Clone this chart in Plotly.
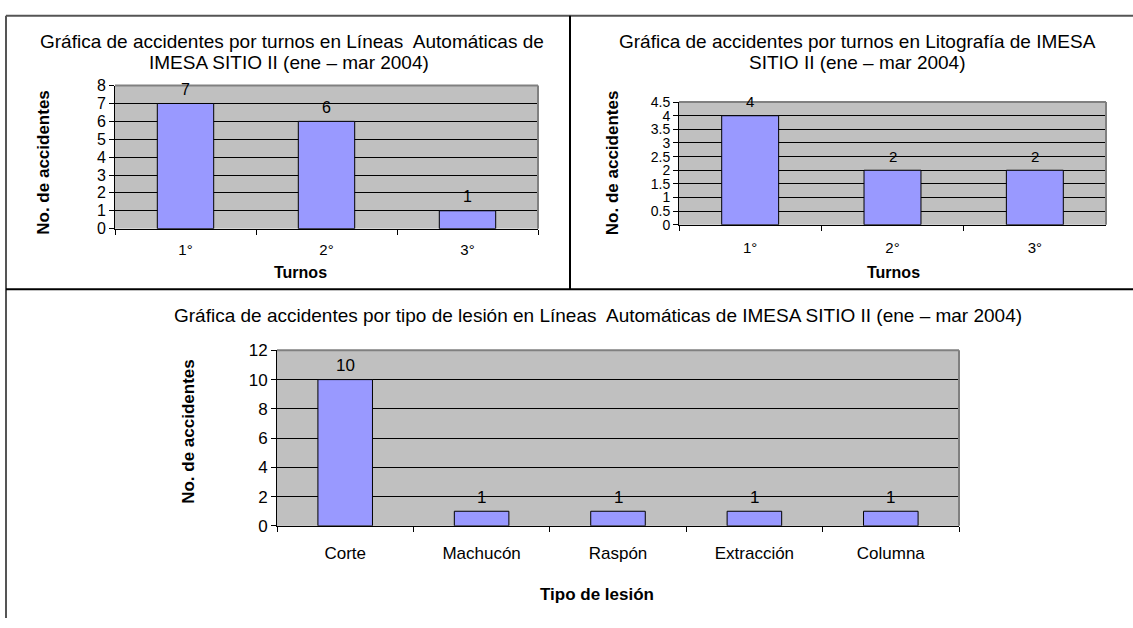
import plotly.graph_objects as go

W, H = 1133, 628

# ---- data ----
turnos = ["1°", "2°", "3°"]
lineas_turnos = [7, 6, 1]
lito_turnos = [4, 2, 2]
lesiones = ["Corte", "Machucón", "Raspón", "Extracción", "Columna"]
lineas_lesiones = [10, 1, 1, 1, 1]

title_tl = ["Gráfica de accidentes por turnos en Líneas  Automáticas de",
            "IMESA SITIO II (ene – mar 2004)"]
title_tr = ["Gráfica de accidentes por turnos en Litografía de IMESA",
            "SITIO II (ene – mar 2004)"]
title_b = "Gráfica de accidentes por tipo de lesión en Líneas  Automáticas de IMESA SITIO II (ene – mar 2004)"
ytitle = "No. de accidentes"
xtitle_top = "Turnos"
xtitle_b = "Tipo de lesión"

FONT = "Arial, 'Liberation Sans', sans-serif"


def px(x):
    return x / W


def py(y):
    return 1 - y / H


fig = go.Figure()

bar_style = dict(marker=dict(color="#9999FF", line=dict(color="black", width=1)),
                 width=0.4, showlegend=False, hoverinfo="x+y")

series = [("", turnos, lineas_turnos, 16), ("2", turnos, lito_turnos, 15),
          ("3", lesiones, lineas_lesiones, 17)]
for sx, cats, vals, fs in series:
    fig.add_trace(go.Bar(x=cats, y=vals, xaxis="x" + sx, yaxis="y" + sx, **bar_style))

# plot areas in pixels: (left, right, top, bottom)
areas = {
    "1": (115, 538, 79, 226.5),
    "2": (679, 1106, 96, 222.5),
    "3": (277, 959, 352, 533),
}
ranges = {"1": ([0, 8], 1), "2": ([0, 4.5], 0.5), "3": ([0, 12], 2)}
tickfs = {"1": 16, "2": 14, "3": 17}
xtickfs = {"1": 15, "2": 15, "3": 17}
standoff = {"1": 7, "2": 9, "3": 12}

layout = {}
for k, (l, r, t, b) in areas.items():
    sx = "" if k == "1" else k
    yr, dt = ranges[k]
    layout["xaxis" + sx] = dict(
        domain=[px(l), px(r)], anchor="y" + sx, type="category",
        showgrid=False, ticks="outside", tickson="boundaries", ticklen=5,
        tickcolor="black", showline=True, linecolor="black", linewidth=1,
        tickfont=dict(size=xtickfs[k], color="black", family=FONT),
        ticklabelstandoff=standoff[k], fixedrange=True)
    layout["yaxis" + sx] = dict(
        domain=[py(b), py(t)], anchor="x" + sx, range=yr, dtick=dt,
        showgrid=True, gridcolor="black", gridwidth=1, zeroline=False,
        ticks="outside", ticklen=5, tickcolor="black", showline=True,
        linecolor="black", linewidth=1,
        tickfont=dict(size=tickfs[k], color="black", family=FONT), fixedrange=True)

fig.update_layout(**layout)

shapes = []
# gray top/right edges of each plot area
for k, (l, r, t, b) in areas.items():
    shapes.append(dict(type="line", xref="paper", yref="paper", x0=px(l), x1=px(r),
                       y0=py(t), y1=py(t), line=dict(color="#808080", width=2), layer="above"))
    shapes.append(dict(type="line", xref="paper", yref="paper", x0=px(r), x1=px(r),
                       y0=py(t), y1=py(b), line=dict(color="#808080", width=2), layer="above"))
# frame lines
shapes += [
    dict(type="line", xref="paper", yref="paper", x0=px(6), x1=1, y0=py(7), y1=py(7),
         line=dict(color="#555555", width=2)),
    dict(type="line", xref="paper", yref="paper", x0=px(6), x1=px(6), y0=py(7), y1=0,
         line=dict(color="#555555", width=2)),
    dict(type="line", xref="paper", yref="paper", x0=px(570), x1=px(570), y0=py(7), y1=py(289),
         line=dict(color="black", width=2)),
    dict(type="line", xref="paper", yref="paper", x0=px(6), x1=1, y0=py(289), y1=py(289),
         line=dict(color="black", width=2)),
]

ann = []


def add_text(text, x, y, size, bold=False, angle=0):
    ann.append(dict(text=f"<b>{text}</b>" if bold else text, x=px(x), y=py(y),
                    xref="paper", yref="paper", showarrow=False, textangle=angle,
                    xanchor="center", yanchor="middle",
                    font=dict(size=size, color="black", family=FONT)))


# bar value labels, placed through the data axes
for sx, cats, vals, fs in series:
    for c, v in zip(cats, vals):
        ann.append(dict(text=str(v), x=c, y=v, xref="x" + sx, yref="y" + sx,
                        showarrow=False, yanchor="middle", yshift=14,
                        font=dict(size=fs, color="black", family=FONT)))

add_text(title_tl[0], 292, 33, 19)
add_text(title_tl[1], 289, 55, 19)
add_text(title_tr[0], 857, 33, 19)
add_text(title_tr[1], 857, 55, 19)
add_text(title_b, 598, 316, 19)
add_text(ytitle, 44, 157.5, 17, bold=True, angle=-90)
add_text(ytitle, 612, 159, 17, bold=True, angle=-90)
add_text(ytitle, 189, 436, 17, bold=True, angle=-90)
add_text(xtitle_top, 300, 272, 16, bold=True)
add_text(xtitle_top, 893, 272, 16, bold=True)
add_text(xtitle_b, 597, 604, 17, bold=True)

fig.update_layout(width=W, height=H, margin=dict(l=0, r=0, t=0, b=0),
                  paper_bgcolor="white", plot_bgcolor="#C0C0C0",
                  shapes=shapes, annotations=ann, bargap=0.6,
                  font=dict(family=FONT, color="black"))

fig.write_html("out.html", config={"displayModeBar": False},
               post_script="document.body.style.margin='0';document.body.style.overflow='hidden';")
